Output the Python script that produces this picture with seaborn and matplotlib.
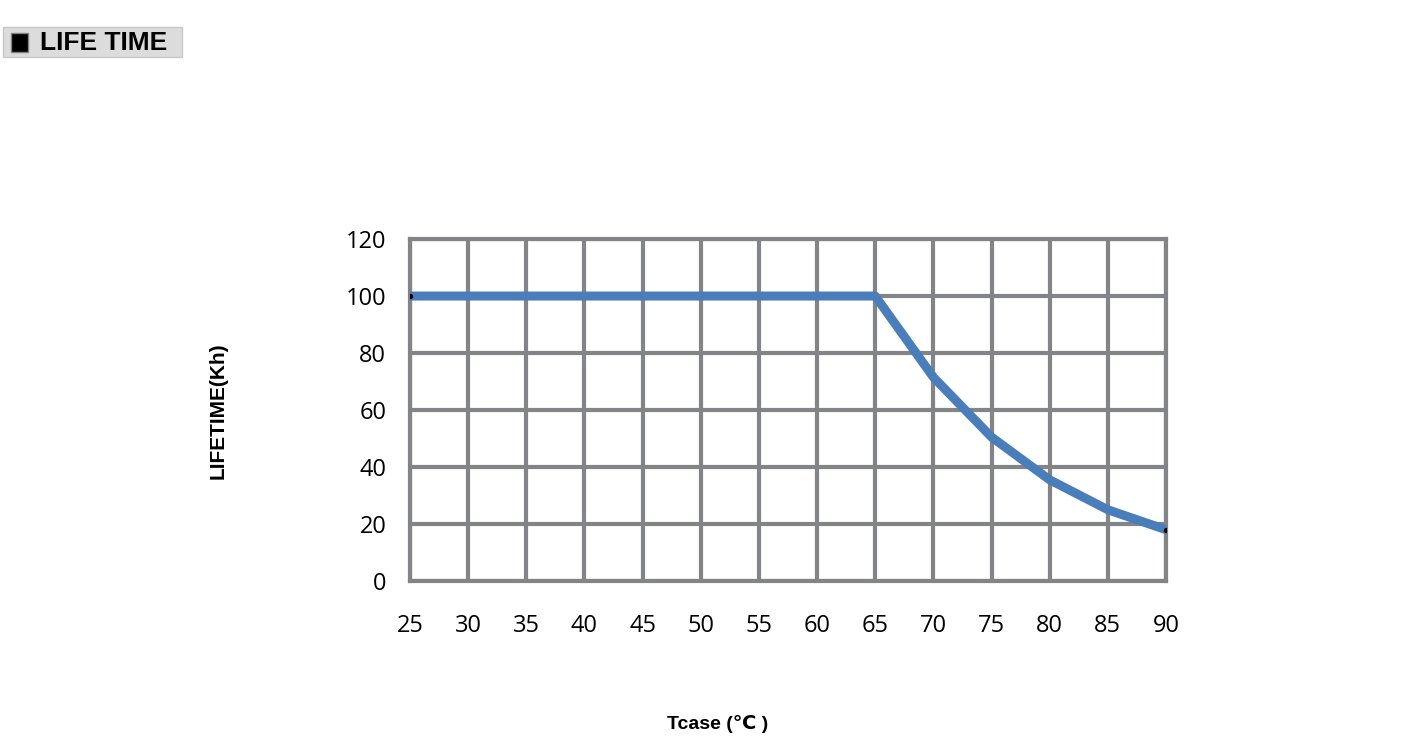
import matplotlib
matplotlib.use("Agg")
import matplotlib.pyplot as plt
import seaborn as sns
import pandas as pd
from matplotlib.patches import Rectangle

tcase = [25, 30, 35, 40, 45, 50, 55, 60, 65, 70, 75, 80, 85, 90]
lifetime = [100, 100, 100, 100, 100, 100, 100, 100, 100, 71.5, 50.5, 35.5, 25, 18]
x_ticks = list(range(25, 95, 5))
y_ticks = list(range(0, 140, 20))

sns.set_style("white")
plt.rcParams['font.family'] = ['Open Sans', 'DejaVu Sans']
plt.rcParams['text.color'] = "black"
plt.rcParams['xtick.color'] = "black"
plt.rcParams['ytick.color'] = "black"

data = pd.DataFrame({"Tcase": tcase, "Lifetime": lifetime})

fig = plt.figure(figsize=(14.04, 7.47), dpi=100)
ax = fig.add_axes([0.292, 0.2222, 0.5385, 0.4578])

grid_color = "#838488"
sns.lineplot(data=data, x="Tcase", y="Lifetime", ax=ax, color="#4A7EBB",
             linewidth=6.5, solid_capstyle="butt", zorder=3)
ax.scatter([tcase[0], tcase[-1]], [lifetime[0], lifetime[-1]], s=8, color="black", zorder=4)

ax.set_xlim(25, 90)
ax.set_ylim(0, 120)
ax.set_xticks(x_ticks)
ax.set_yticks(y_ticks)
ax.grid(True, color=grid_color, linewidth=3)
for side in ["top", "right", "bottom", "left"]:
    ax.spines[side].set_color(grid_color)
    ax.spines[side].set_linewidth(3)
ax.tick_params(axis="y", length=7, width=3, color=grid_color, labelcolor="black",
               pad=10, labelsize=17)
ax.tick_params(axis="x", length=0, pad=24, labelcolor="black", labelsize=17)
ax.set_xlabel("")
ax.set_ylabel("")

fig.text(218 / 1404, 1 - 411 / 747, "LIFETIME(Kh)", rotation=90, ha="center", va="center",
         fontsize=15, fontweight="bold", fontstretch="condensed",
         family=['Liberation Sans Narrow', 'Liberation Sans', 'DejaVu Sans'])
fig.text(0.511, 0.031, "Tcase (\u2103 )", ha="center", va="center",
         fontsize=14, fontweight="bold", family=['Liberation Sans', 'DejaVu Sans'])

fig.patches.append(Rectangle((3 / 1404, 1 - 57 / 747), 179 / 1404, 30 / 747,
                             transform=fig.transFigure, facecolor="#DCDCDC",
                             edgecolor="#C8C8C8", linewidth=1, zorder=0))
fig.patches.append(Rectangle((11 / 1404, 1 - 52 / 747), 17 / 1404, 19 / 747,
                             transform=fig.transFigure, facecolor="black",
                             edgecolor="#808080", linewidth=1, zorder=1))
fig.text(40 / 1404, 1 - 43 / 747, "LIFE TIME", ha="left", va="center",
         fontsize=19, fontweight="bold", color="black",
         family=['Liberation Sans', 'DejaVu Sans'])

fig.savefig("out.png", dpi=100)
